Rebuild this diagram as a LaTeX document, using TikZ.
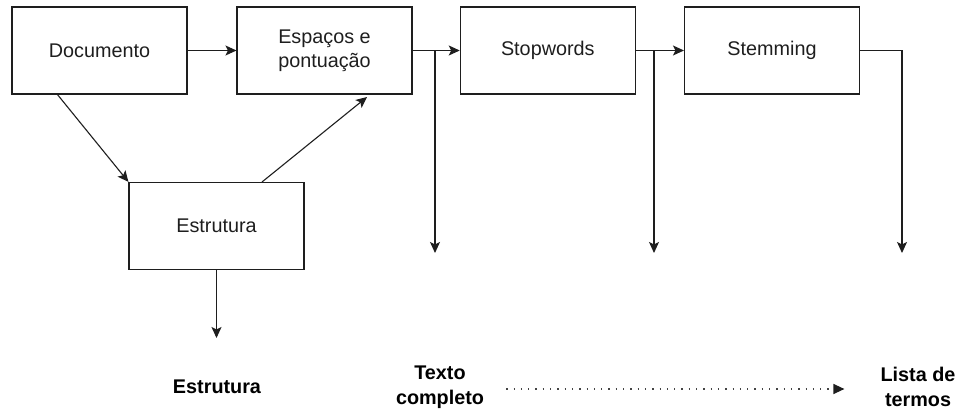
\documentclass[tikz,border=0pt]{standalone}
\usepackage{fontspec}
\setmainfont{Liberation Sans}
\usetikzlibrary{arrows.meta,calc}
\definecolor{ink}{HTML}{1E1E1E}
\definecolor{dotgray}{HTML}{444444}
\begin{document}
\begin{tikzpicture}[x=1pt,y=-1pt,
  stage/.style={draw=ink,line width=1.1pt,minimum width=175pt,minimum height=87pt,
    inner sep=0pt,align=center,text=ink,font=\fontsize{19.8}{24}\selectfont},
  outlbl/.style={inner sep=0pt,align=center,font=\bfseries\fontsize{19.8}{24.5}\selectfont},
  flow/.style={draw=ink,line width=1.1pt,-{Stealth[length=11pt,width=10pt,inset=2.5pt]}},
  wire/.style={draw=ink,line width=1.1pt},
  dotline/.style={draw=dotgray,line width=1.3pt,dash pattern=on 1.3pt off 6pt,
    -{Stealth[length=11pt,width=10pt,inset=0pt,color=ink]}}]
\useasboundingbox (0,0) rectangle (960,411);

% processing stages
\node[stage] (doc)  at (99.5,50.5)  {Documento};
\node[stage] (esp)  at (324.5,50.5) {Espaços e\\pontuação};
\node[stage] (stop) at (547.8,50.5) {Stopwords};
\node[stage] (stem) at (772,50.5)   {Stemming};
\node[stage] (estr) at (216.5,226)  {Estrutura};

% outputs
\node[outlbl] (oE) at (217,387) {Estrutura};
\node[outlbl] (oT) at (440,387) {Texto\\completo};
\node[outlbl] (oL) at (918,387) {Lista de\\termos};

% branch points and free ends
\coordinate (b1) at (435,50.5);
\coordinate (b2) at (654,50.5);
\coordinate (b3) at (902,50.5);
\coordinate (d1) at (435,253);
\coordinate (d2) at (654,253);
\coordinate (d3) at (902,253);
\coordinate (dE) at (216.5,338);

% main pipeline
\draw[flow] (doc) -- (esp);
\draw[flow] (esp) -- (stop);
\draw[flow] (stop) -- (stem);
\draw[wire] (stem.east) -- (b3);

% structure extraction
\draw[flow] (57,94) -- (estr.north west);
\draw[flow] (262,182) -- (367,97);
\draw[flow] (estr) -- (dE);

% intermediate outputs
\draw[flow] (b1) -- (d1);
\draw[flow] (b2) -- (d2);
\draw[flow] (b3) -- (d3);

% from full text to term list
\draw[dotline,shorten <=22pt,shorten >=36pt] (oT.east |- 0,389) -- (oL.west |- 0,389);
\end{tikzpicture}
\end{document}
